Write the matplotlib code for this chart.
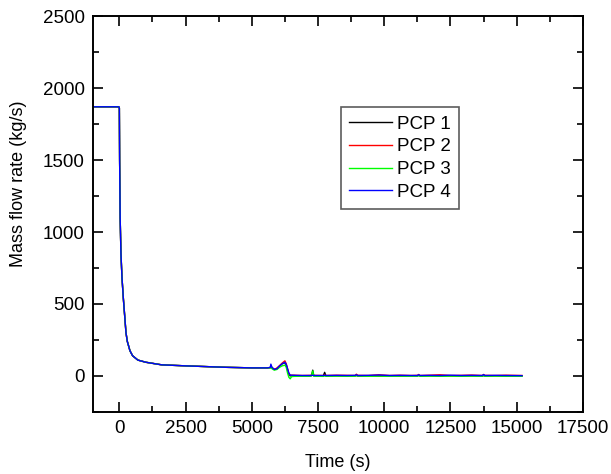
import numpy as np
import matplotlib.pyplot as plt
from matplotlib.ticker import MultipleLocator

plt.rcParams['font.family'] = ['Liberation Sans', 'DejaVu Sans']

# Fase inicial: regime + queda apos o trip (comum as 4 bombas)
t_head = [-1000, -20, 0, 10, 30, 60, 100, 150, 200, 250, 300, 400, 500, 700,
          1000, 1600, 2500, 4000, 5000, 5600]
flow_head = [1870, 1870, 1860, 1500, 1100, 850, 680, 540, 420, 300, 240, 175,
             140, 110, 95, 77, 70, 60, 56, 56]

# Oscilacao perto de 6000 s
t_bump = [5700, 5720, 5760, 5850, 5950, 6050, 6150, 6250, 6300, 6350, 6400, 6450, 6500]
bump_pcp1 = [58, 72, 56, 45, 52, 68, 85, 92, 75, 40, 10, 0, 2]
bump_pcp2 = [58, 70, 58, 45, 55, 72, 90, 105, 85, 50, 15, 5, 5]
bump_pcp3 = [55, 60, 50, 40, 45, 60, 70, 75, 60, 20, -10, -20, -5]
bump_pcp4 = [60, 82, 60, 45, 50, 70, 85, 95, 80, 50, 20, 5, 5]

# Cauda ate o fim da simulacao
t_tail = [6600, 6900, 7200, 7260, 7300, 7340, 7700, 7750, 7800, 8200, 8600,
          8900, 8950, 9000, 9400, 9800, 10200, 10600, 11000, 11250, 11300,
          11350, 11700, 12100, 12500, 12900, 13300, 13700, 13750, 13800,
          14200, 14600, 15200]
tail_pcp1 = [2, 0, 0, 5, 40, 2, 0, 25, 0, 1, 0, 1, 3, 0, 1, 0, 1, 0, 1, 0, 4,
             0, 1, 0, 1, 0, 1, 0, 2, 0, 1, 0, 0]
tail_pcp2 = [5, 3, 4, 6, 10, 4, 3, 6, 3, 5, 4, 3, 12, 4, 3, 8, 3, 5, 3, 4, 10,
             3, 5, 8, 3, 4, 6, 3, 10, 4, 3, 5, 3]
tail_pcp3 = [-3, -2, -2, 0, 35, -2, -3, 0, -2, -1, -2, -2, 3, -1, -2, -1, -2,
             -1, -2, -1, 2, -2, -1, -2, -1, -2, -1, -2, 3, -2, -1, -2, -2]
tail_pcp4 = [4, 3, 3, 3, 5, 3, 3, 4, 3, 4, 3, 4, 8, 3, 4, 6, 3, 4, 3, 3, 8, 3,
             4, 3, 5, 3, 4, 3, 9, 3, 4, 3, 2]

labels = ['PCP 1', 'PCP 2', 'PCP 3', 'PCP 4']
cores = ['#000000', '#ff0000', '#00ff00', '#0000ff']
bumps = [bump_pcp1, bump_pcp2, bump_pcp3, bump_pcp4]
tails = [tail_pcp1, tail_pcp2, tail_pcp3, tail_pcp4]

fig = plt.figure(figsize=(6.11, 4.74), dpi=100)
ax = fig.add_axes([0.152, 0.131, 0.802, 0.835])

for lab, cor, b, tl in zip(labels, cores, bumps, tails):
    t = t_head + t_bump + t_tail
    y = flow_head + b + tl
    ax.plot(t, y, color=cor, lw=1.0, label=lab)

ax.set_xlim(-1000, 17500)
ax.set_ylim(-250, 2500)
ax.xaxis.set_major_locator(MultipleLocator(2500))
ax.xaxis.set_minor_locator(MultipleLocator(1250))
ax.yaxis.set_major_locator(MultipleLocator(500))
ax.yaxis.set_minor_locator(MultipleLocator(250))
ax.tick_params(which='both', direction='in', top=True, right=True,
               labelsize=13.5, width=1.2)
ax.tick_params(which='major', length=7, pad=6)
ax.tick_params(which='minor', length=4)
for s in ax.spines.values():
    s.set_linewidth(1.4)

ax.set_xlabel('Time (s)', fontsize=13, labelpad=12)
ax.set_ylabel('Mass flow rate (kg/s)', fontsize=13)
ax.yaxis.set_label_coords(-0.135, 0.576)

leg = ax.legend(loc='upper left', bbox_to_anchor=(0.506, 0.770), borderaxespad=0,
                fontsize=13.5, fancybox=False, handlelength=2.3, labelspacing=0.3,
                handletextpad=0.25, borderpad=0.45)
leg.get_frame().set_edgecolor('#333333')
leg.get_frame().set_linewidth(1.2)

plt.savefig('out.png', dpi=100)
